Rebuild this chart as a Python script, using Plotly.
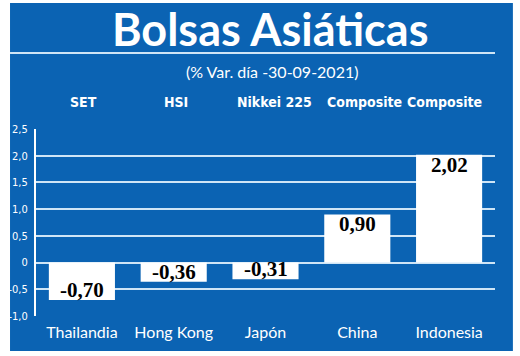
import plotly.graph_objects as go

countries = ["Thailandia", "Hong Kong", "Japón", "China", "Indonesia"]
indices = ["SET", "HSI", "Nikkei 225", "Composite", "Composite"]
values = [-0.70, -0.36, -0.31, 0.90, 2.02]
value_labels = ["-0,70", "-0,36", "-0,31", "0,90", "2,02"]
tick_vals = [-1.0, -0.5, 0, 0.5, 1.0, 1.5, 2.0, 2.5]
tick_text = ["-1,0", "-0,5", "0", "0,5", "1,0", "1,5", "2,0", "2,5"]
title = "Bolsas Asiáticas"
subtitle = "(% Var. día -30-09-2021)"

BLUE = "#0b63b3"
GRID = "#cfe5f6"
index_xshift = [2, 2, 9, 7, -5]

fig = go.Figure()
fig.add_trace(go.Bar(
    x=countries, y=values, marker=dict(color="white", line=dict(width=0)),
    width=0.72, hoverinfo="skip",
))

annotations = []
for c, v, lab in zip(countries, values, value_labels):
    annotations.append(dict(
        x=c, y=v, xref="x", yref="y", text="<b>" + lab + "</b>", showarrow=False,
        yanchor="bottom" if v < 0 else "top", yshift=-4 if v < 0 else 4,
        font=dict(family="Liberation Serif", size=21, color="black"),
    ))
for c, name, dx in zip(countries, indices, index_xshift):
    annotations.append(dict(
        x=c, y=1.145, xref="x", yref="paper", text="<b>" + name + "</b>",
        showarrow=False, yanchor="middle", xshift=dx,
        font=dict(family="DejaVu Sans Condensed", size=14, color="white"),
    ))
annotations.append(dict(
    x=0.51, y=1.535, xref="paper", yref="paper", text="<b>" + title + "</b>",
    showarrow=False, yanchor="middle",
    font=dict(family="Lato", size=45, color="white"),
))
annotations.append(dict(
    x=0.514, y=1.31, xref="paper", yref="paper", text=subtitle,
    showarrow=False, yanchor="middle",
    font=dict(family="Lato", size=16, color="white"),
))

shapes = [
    dict(type="rect", xref="paper", yref="paper", x0=-0.0566, x1=1.039,
         y0=-0.187, y1=1.674, fillcolor=BLUE, line=dict(width=0), layer="below"),
    dict(type="line", xref="paper", yref="paper", x0=-0.0566, x1=1.0,
         y0=1.406, y1=1.406, line=dict(color=GRID, width=2)),
]

fig.update_layout(
    width=520, height=356,
    margin=dict(l=36, r=25, t=129, b=40),
    paper_bgcolor="white", plot_bgcolor=BLUE,
    showlegend=False, bargap=0.28, hovermode=False,
    annotations=annotations, shapes=shapes,
    xaxis=dict(showgrid=False, zeroline=False, showline=False, ticks="",
               automargin=False, ticklabelstandoff=5, fixedrange=True,
               tickfont=dict(family="Lato", size=16, color="white"),
               range=[-0.5, 4.5]),
    yaxis=dict(range=[-1.0, 2.5], tickvals=tick_vals, ticktext=tick_text,
               automargin=False, fixedrange=True,
               showgrid=True, gridcolor=GRID, gridwidth=2,
               zeroline=True, zerolinecolor=GRID, zerolinewidth=2,
               showline=True, linecolor="white", linewidth=2,
               ticks="", ticklabelstandoff=4,
               tickfont=dict(family="DejaVu Sans Condensed", size=11, color="white")),
)

fig.write_html("out.html", config={"displayModeBar": False},
               post_script="document.body.style.margin='0';document.body.style.overflow='hidden';")
